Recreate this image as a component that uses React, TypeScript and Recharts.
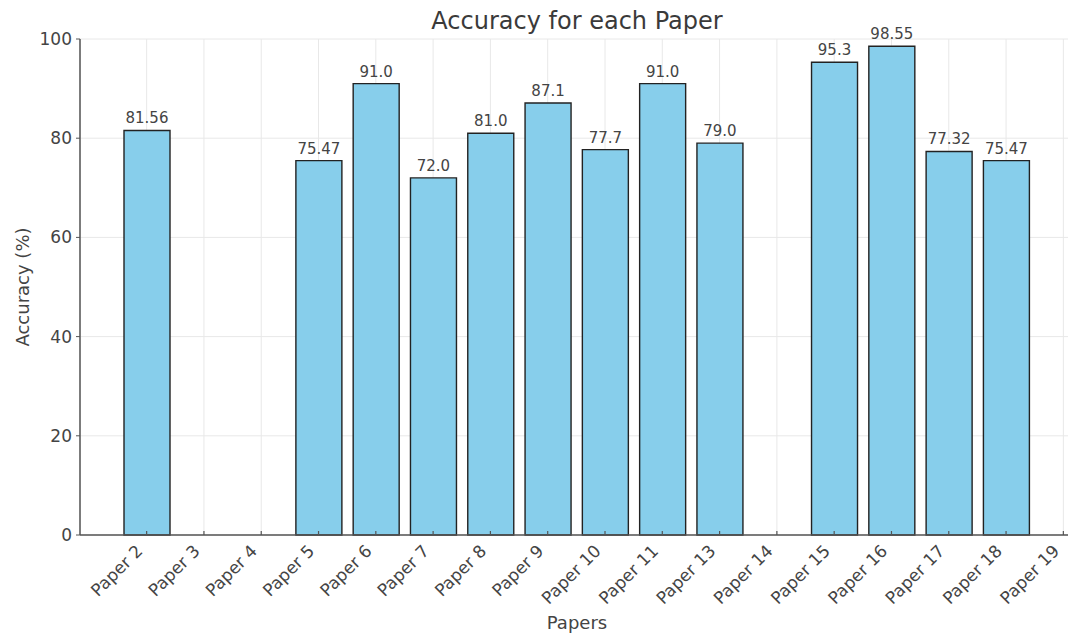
import { BarChart, Bar, XAxis, YAxis, CartesianGrid, LabelList } from 'recharts';

const categories = [
  'Paper 2', 'Paper 3', 'Paper 4', 'Paper 5', 'Paper 6', 'Paper 7', 'Paper 8', 'Paper 9',
  'Paper 10', 'Paper 11', 'Paper 13', 'Paper 14', 'Paper 15', 'Paper 16', 'Paper 17',
  'Paper 18', 'Paper 19',
];
// null = no reported accuracy (no bar drawn)
const accuracy: (number | null)[] = [
  81.56, null, null, 75.47, 91.0, 72.0, 81.0, 87.1,
  77.7, 91.0, 79.0, null, 95.3, 98.55, 77.32,
  75.47, null,
];
const yTicks = [0, 20, 40, 60, 80, 100];

const data = categories.map((name, i) => ({ name, accuracy: accuracy[i] }));

const FONT = '"DejaVu Sans", sans-serif';
const TEXT = '#444';
const SPINE = '#555';

const fmt = (v: any) => {
  if (v === null || v === undefined) return '';
  return Number.isInteger(v) ? Number(v).toFixed(1) : String(v);
};

// eslint-disable-next-line @typescript-eslint/no-explicit-any
const XTick = ({ x, y, payload }: any) => (
  <g>
    <line x1={x} x2={x} y1={y} y2={y - 4} stroke={SPINE} strokeWidth={1.2} />
    <text
      x={x - 3}
      y={y + 17}
      transform={`rotate(-45, ${x - 3}, ${y + 17})`}
      textAnchor="end"
      fontSize={17}
      fill={TEXT}
    >
      {payload.value}
    </text>
  </g>
);

// eslint-disable-next-line @typescript-eslint/no-explicit-any
const XLabel = ({ viewBox }: any) => (
  <text x={viewBox.x + 497} y={629} textAnchor="middle" fontSize={18} fill={TEXT}>
    Papers
  </text>
);

// eslint-disable-next-line @typescript-eslint/no-explicit-any
const YLabel = ({ viewBox }: any) => {
  const cy = viewBox.y + viewBox.height / 2;
  return (
    <text x={29} y={cy} transform={`rotate(-90, 29, ${cy})`} textAnchor="middle" fontSize={18} fill={TEXT}>
      Accuracy (%)
    </text>
  );
};

export default function App() {
  return (
    <div
      style={{
        position: 'fixed', top: 0, left: 0, width: 1068, height: 637,
        overflow: 'hidden', background: '#fff', fontFamily: FONT,
      }}
    >
      <div
        style={{
          position: 'absolute', top: 6, left: 0, width: 1154, textAlign: 'center',
          fontSize: 24, lineHeight: '30px', color: '#3a3a3a',
        }}
      >
        Accuracy for each Paper
      </div>
      <BarChart
        width={1092}
        height={637}
        data={data}
        margin={{ top: 39, right: 0, bottom: 0, left: 0 }}
      >
        <CartesianGrid stroke="#e8e8e8" strokeWidth={1} />
        <Bar
          dataKey="accuracy"
          fill="#87CEEB"
          stroke="#222"
          strokeWidth={1.4}
          barSize={46}
          isAnimationActive={false}
        >
          <LabelList
            dataKey="accuracy"
            position="top"
            offset={7}
            formatter={fmt}
            fontSize={15}
            fill={TEXT}
          />
        </Bar>
        <XAxis
          dataKey="name"
          interval={0}
          padding={{ left: 38, right: 0 }}
          height={102}
          tickSize={0}
          tickMargin={0}
          tickLine={false}
          axisLine={{ stroke: SPINE, strokeWidth: 1.5 }}
          tick={<XTick />}
          label={{ content: <XLabel /> }}
        />
        <YAxis
          width={80}
          domain={[0, 100]}
          ticks={yTicks}
          tickSize={4}
          tickMargin={4}
          tickLine={{ stroke: SPINE }}
          axisLine={{ stroke: SPINE, strokeWidth: 1.5 }}
          tick={{ fontSize: 17, fill: TEXT }}
          label={{ content: <YLabel /> }}
        />
      </BarChart>
    </div>
  );
}
